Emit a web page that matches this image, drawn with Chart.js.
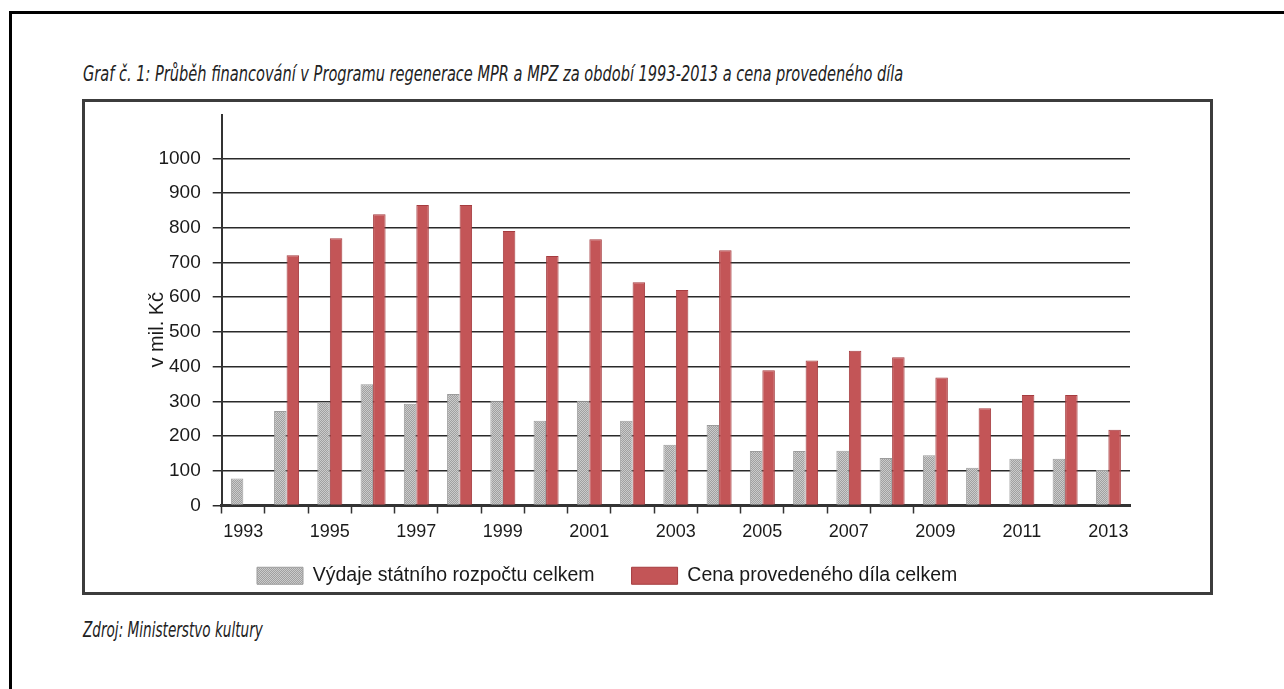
<!DOCTYPE html>
<html>
<head>
<meta charset="utf-8">
<script src="https://cdn.jsdelivr.net/npm/chart.js@4.4.1/dist/chart.umd.min.js"></script>
<style>
  body { margin: 0; background: #fff; width: 1284px; height: 689px; overflow: hidden; position: relative; }
  #topLine { position: absolute; left: 9px; top: 11px; width: 1275px; height: 3px; background: #000; }
  #leftLine { position: absolute; left: 9px; top: 11px; width: 3px; height: 678px; background: #000; }
  #box { position: absolute; left: 82px; top: 99px; width: 1125px; height: 490px; border: 3px solid #3c3c3c; }
  .cap { position: absolute; left: 83px; white-space: nowrap; color: #222; transform-origin: 0 0;
         font-family: "Liberation Sans Narrow", "DejaVu Sans Condensed", "Liberation Sans", sans-serif;
         font-style: italic; font-size: 21px; line-height: 24px; }
  #title { top: 62px; }
  #source { top: 618px; }
  #wrap { position: absolute; left: 86px; top: 103px; width: 1120px; height: 505px; }
</style>
</head>
<body>
<div id="topLine"></div>
<div id="leftLine"></div>
<div id="box"></div>
<div class="cap" id="title">Graf č. 1: Průběh financování v Programu regenerace MPR a MPZ za období 1993-2013 a cena provedeného díla</div>
<div class="cap" id="source">Zdroj: Ministerstvo kultury</div>
<div id="wrap"><canvas id="myChart" width="1120" height="505"></canvas></div>

<script>
var years = ['1993','1994','1995','1996','1997','1998','1999','2000','2001','2002','2003',
             '2004','2005','2006','2007','2008','2009','2010','2011','2012','2013'];
var vydaje = [78, 272, 299, 349, 293, 321, 302, 244, 302, 244, 175,
              232, 157, 157, 158, 137, 145, 109, 135, 135, 102];
var cena = [null, 721, 770, 839, 866, 866, 791, 719, 767, 643, 621,
            735, 390, 418, 446, 427, 369, 280, 318, 318, 218];
var yTicks = [0, 100, 200, 300, 400, 500, 600, 700, 800, 900, 1000];

// squeeze the captions to the width they have in the scan
function fitWidth(id, w) {
    var el = document.getElementById(id);
    el.style.transform = 'scaleX(' + (w / el.offsetWidth) + ')';
}
fitWidth('title', 820);
fitWidth('source', 180);

// stippled grey like the printed bars
function greyPattern() {
    var c = document.createElement('canvas');
    c.width = 2; c.height = 2;
    var g = c.getContext('2d');
    g.fillStyle = '#cbcbcb'; g.fillRect(0, 0, 2, 2);
    g.fillStyle = '#a0a0a0'; g.fillRect(0, 0, 1, 1); g.fillRect(1, 1, 1, 1);
    return g.createPattern(c, 'repeat');
}

var moveLegend = {
    id: 'moveLegend',
    afterLayout: function (chart) {
        var lg = chart.legend;
        var w = lg.right - lg.left;
        lg.left = 134; lg.right = 134 + w;
        lg.top = 426; lg.bottom = 426 + lg.height;
    }
};

var ctx = document.getElementById('myChart').getContext('2d');
var myChart = new Chart(ctx, {
    type: 'bar',
    data: {
        labels: years,
        datasets: [{
            label: 'Výdaje státního rozpočtu celkem',
            data: vydaje,
            backgroundColor: greyPattern(),
            borderColor: '#9c9c9c',
            borderWidth: 1
        }, {
            label: 'Cena provedeného díla celkem',
            data: cena,
            backgroundColor: '#c35557',
            borderColor: '#a53c3f',
            borderWidth: 1
        }]
    },
    options: {
        responsive: false,
        animation: false,
        devicePixelRatio: 1,
        layout: { padding: { left: 50, right: 76, top: 12, bottom: 0 } },
        datasets: { bar: { categoryPercentage: 0.578, barPercentage: 1.0 } },
        scales: {
            x: {
                afterFit: function (s) { s.height = 36; },
                grid: {
                    offset: true,
                    drawOnChartArea: false,
                    tickLength: 8,
                    tickWidth: 1.5,
                    tickColor: function (c) { return c.index <= 16 ? '#333' : 'rgba(0,0,0,0)'; }
                },
                border: { color: '#333', width: 3 },
                ticks: {
                    autoSkip: false,
                    maxRotation: 0,
                    padding: 8,
                    color: '#1a1a1a',
                    font: { family: 'Liberation Sans', size: 18 },
                    callback: function (v, i) { return i % 2 === 0 ? years[i] : ''; }
                }
            },
            y: {
                min: 0,
                max: 1125,
                afterFit: function (s) { s.width = 85.7; s.paddingTop = 0; s.paddingBottom = 0; },
                afterBuildTicks: function (s) { s.ticks = yTicks.map(function (v) { return { value: v }; }); },
                grid: { color: '#2a2a2a', lineWidth: 1.5, tickLength: 9 },
                border: { color: '#333', width: 2 },
                ticks: {
                    padding: 12,
                    color: '#1a1a1a',
                    font: { family: 'Liberation Sans', size: 19 },
                    callback: function (v) { return String(v); }
                },
                title: {
                    display: true,
                    text: 'v mil. Kč       ',
                    color: '#1a1a1a',
                    padding: { top: 9, bottom: 0 },
                    font: { family: 'Liberation Sans', size: 20 }
                }
            }
        },
        plugins: {
            tooltip: { enabled: false },
            legend: {
                position: 'bottom',
                align: 'start',
                labels: {
                    boxWidth: 46,
                    boxHeight: 17,
                    padding: 37,
                    color: '#1a1a1a',
                    font: { family: 'Liberation Sans', size: 19.5 }
                }
            }
        }
    },
    plugins: [moveLegend]
});
</script>
</body>
</html>
